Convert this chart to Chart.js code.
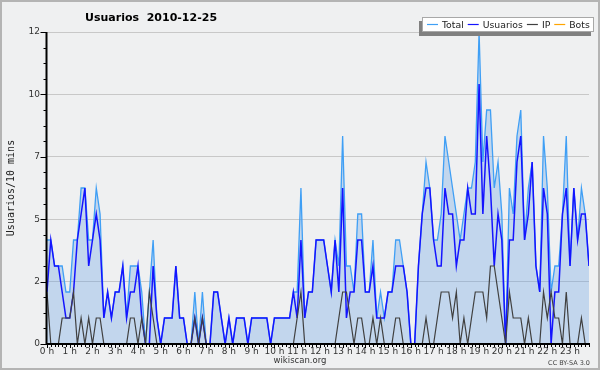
<!DOCTYPE html>
<html><head><meta charset="utf-8">
<script src="https://cdn.jsdelivr.net/npm/chart.js@4.4.1/dist/chart.umd.min.js"></script>
<style>html,body{margin:0;padding:0;background:#eff0f1;}canvas{display:block;}</style>
</head><body>
<canvas id="c" width="600" height="370"></canvas>
<script>
const chartTitle = 'Usuarios  2010-12-25';
const yAxisTitle = 'Usuarios/10 mins';
const footerText = 'wikiscan.org';
const licenseText = 'CC BY-SA 3.0';
const hourLabels = ['0 h','1 h','2 h','3 h','4 h','5 h','6 h','7 h','8 h','9 h','10 h','11 h','12 h','13 h','14 h','15 h','16 h','17 h','18 h','19 h','20 h','21 h','22 h','23 h'];
const slotsPerHour = 6;
const yMax = 12;
const yTickStep = 2.4;

// 10-minute slots of the day (0 .. 143)
const slots = [];
for (let i = 0; i < 24 * slotsPerHour; i++) slots.push(i);

const total = [
 4,4,3,3,3,2, 2,4,4,6,6,4, 4,6,5,1,2,1, 2,2,3,1,3,3, 3,2,0,2,4,1, 0,1,1,1,3,1,
 1,0,0,2,0,2, 0,0,2,2,1,0, 1,0,1,1,1,0, 1,1,1,1,1,0, 1,1,1,1,1,2, 2,6,1,2,2,4,
 4,4,3,2,4,3, 8,3,3,2,5,5, 2,2,4,1,2,1, 2,2,4,4,3,2, 0,0,3,5,7,6, 4,4,5,8,7,6,
 5,4,5,6,6,7, 12,7,9,9,6,7, 5,0,6,5,8,9, 4,6,7,3,2,8, 6,2,3,3,5,8, 3,6,4,6,5,3
];
const usuarios = [
 2,4,3,3,2,1, 1,2,4,5,6,3, 4,5,4,1,2,1, 2,2,3,1,2,2, 3,1,0,0,3,1, 0,1,1,1,3,1,
 1,0,0,1,0,1, 0,0,2,2,1,0, 1,0,1,1,1,0, 1,1,1,1,1,0, 1,1,1,1,1,2, 1,4,1,2,2,4,
 4,4,3,2,4,2, 6,1,2,2,4,4, 2,2,3,1,1,1, 2,2,3,3,3,2, 0,0,3,5,6,6, 4,3,3,6,5,5,
 3,4,4,6,5,5, 10,5,8,6,3,5, 4,0,4,4,7,8, 4,5,7,3,2,6, 5,0,2,2,5,6, 3,6,4,5,5,3
];
const ip = [
 2,0,0,0,1,1, 1,2,0,1,0,1, 0,1,1,0,0,0, 0,0,0,0,1,1, 0,1,0,2,1,0, 0,0,0,0,0,0,
 0,0,0,1,0,1, 0,0,0,0,0,0, 0,0,0,0,0,0, 0,0,0,0,0,0, 0,0,0,0,0,0, 1,2,0,0,0,0,
 0,0,0,0,0,1, 2,2,1,0,1,1, 0,0,1,0,1,0, 0,0,1,1,0,0, 0,0,0,0,1,0, 0,1,2,2,2,1,
 2,0,1,0,1,2, 2,2,1,3,3,2, 1,0,2,1,1,1, 0,1,0,0,0,2, 1,2,1,1,0,2, 0,0,0,1,0,0
];
const bots = [
 0,0,0,0,0,0, 0,0,0,0,0,0, 0,0,0,0,0,0, 0,0,0,0,0,0, 0,0,0,0,0,0, 0,0,0,0,0,0,
 0,0,0,0,0,0, 0,0,0,0,0,0, 0,0,0,0,0,0, 0,0,0,0,0,0, 0,0,0,0,0,0, 0,0,0,0,0,0,
 0,0,0,0,0,0, 0,0,0,0,0,0, 0,0,0,0,0,0, 0,0,0,0,0,0, 0,0,0,0,0,0, 0,0,0,0,0,0,
 0,0,0,0,0,0, 0,0,0,0,0,0, 0,0,0,0,0,0, 0,0,0,0,0,0, 0,0,0,0,0,0, 0,0,0,0,0,0
];

const BG = '#eff0f1';
const FONT = '"DejaVu Sans", "Liberation Sans", sans-serif';

const decor = {
  id: 'decor',
  beforeDraw(chart) {
    const c = chart.ctx;
    c.save();
    c.fillStyle = BG;
    c.fillRect(0, 0, chart.width, chart.height);
    c.restore();
  },
  afterDatasetsDraw(chart) {
    const c = chart.ctx, a = chart.chartArea, xs = chart.scales.x, ys = chart.scales.y;
    c.save();
    c.strokeStyle = '#000';
    c.lineWidth = 1;
    c.beginPath();
    // y ticks: major every yTickStep, 4 minor intervals
    const nMinor = Math.round(yMax / (yTickStep / 4));
    for (let k = 0; k <= nMinor; k++) {
      const py = Math.round(ys.getPixelForValue(k * yTickStep / 4)) + 0.5;
      const len = (k % 4 === 0) ? 6 : 3;
      c.moveTo(a.left - len - 0.5, py);
      c.lineTo(a.left, py);
    }
    // x ticks: every slot, hour ticks longer
    for (let i = 0; i < slots.length; i++) {
      const px = Math.round(xs.getPixelForValue(slots[i])) + 0.5;
      const len = (i % slotsPerHour === 0) ? 4 : 3;
      c.moveTo(px, a.bottom);
      c.lineTo(px, a.bottom + len);
    }
    c.stroke();
    // axis lines
    c.lineWidth = 2;
    c.beginPath();
    c.moveTo(a.left - 0.5, a.top);
    c.lineTo(a.left - 0.5, a.bottom + 1);
    c.moveTo(a.left - 1.5, a.bottom);
    c.lineTo(a.right + 1, a.bottom);
    c.stroke();
    c.restore();
  },
  afterDraw(chart) {
    const c = chart.ctx, a = chart.chartArea;
    c.save();
    // title
    c.fillStyle = '#000';
    c.font = 'bold 11px ' + FONT;
    c.textAlign = 'left';
    c.textBaseline = 'alphabetic';
    c.fillText(chartTitle, 85, 21);
    // y axis title (monospace, rotated)
    c.save();
    c.translate(14, (a.top + a.bottom) / 2);
    c.rotate(-Math.PI / 2);
    c.font = '10px "DejaVu Sans Mono", monospace';
    c.fillStyle = '#222';
    c.textAlign = 'center';
    c.fillText(yAxisTitle, 0, 0);
    c.restore();
    // legend box with shadow
    c.fillStyle = '#808080';
    c.fillRect(419, 21, 172, 15);
    c.fillStyle = '#ffffff';
    c.fillRect(422, 17, 172, 15);
    c.strokeStyle = '#a8a8a8';
    c.lineWidth = 1;
    c.strokeRect(422.5, 17.5, 171, 14);
    c.font = '9.3px ' + FONT;
    c.textBaseline = 'alphabetic';
    let lx = 427;
    chart.data.datasets.forEach(ds => {
      c.strokeStyle = ds.borderColor;
      c.lineWidth = 1.2;
      c.beginPath();
      c.moveTo(lx, 24.5);
      c.lineTo(lx + 11, 24.5);
      c.stroke();
      c.fillStyle = '#222';
      c.fillText(ds.label, lx + 15, 28);
      lx += 15 + c.measureText(ds.label).width + 4;
    });
    // footer
    c.fillStyle = '#333';
    c.font = '8.5px ' + FONT;
    c.textAlign = 'center';
    c.fillText(footerText, 300, 363);
    c.font = '6.5px ' + FONT;
    c.textAlign = 'right';
    c.fillStyle = '#444';
    c.fillText(licenseText, 590, 365);
    // outer border
    c.strokeStyle = '#b4b4b4';
    c.lineWidth = 2;
    c.strokeRect(1, 1, chart.width - 2, chart.height - 2);
    c.restore();
  }
};

new Chart(document.getElementById('c'), {
  type: 'line',
  data: {
    labels: slots,
    datasets: [
      { label: 'Total', data: total, borderColor: '#3f9ff5', backgroundColor: 'rgba(100,160,230,0.32)',
        fill: 'origin', borderWidth: 1.3, pointRadius: 0, tension: 0, order: 3 },
      { label: 'Usuarios', data: usuarios, borderColor: '#1414ff', borderWidth: 1.5,
        fill: false, pointRadius: 0, tension: 0, order: 2 },
      { label: 'IP', data: ip, borderColor: '#404040', borderWidth: 1.2,
        fill: false, pointRadius: 0, tension: 0, order: 1 },
      { label: 'Bots', data: bots, borderColor: '#ffa500', borderWidth: 1.2,
        fill: false, pointRadius: 0, tension: 0, order: 0 }
    ]
  },
  options: {
    responsive: false,
    animation: false,
    devicePixelRatio: 1,
    layout: { padding: { left: 0, right: 11, top: 32, bottom: 0 } },
    plugins: { legend: { display: false }, tooltip: { enabled: false }, title: { display: false } },
    scales: {
      x: {
        type: 'linear', min: 0, max: slots.length - 1,
        grid: { display: false, drawTicks: false, tickLength: 0 },
        border: { display: false },
        ticks: {
          stepSize: slotsPerHour, includeBounds: false, autoSkip: false, maxRotation: 0,
          padding: 2, color: '#333', font: { family: 'DejaVu Sans', size: 9 },
          callback: v => hourLabels[Math.round(v / slotsPerHour)]
        },
        afterFit: s => { s.height = 26; }
      },
      y: {
        min: 0, max: yMax,
        grid: { color: '#c8c8c8', lineWidth: 1, drawTicks: false, tickLength: 0 },
        border: { display: false },
        ticks: {
          stepSize: yTickStep, padding: 7, color: '#333', font: { family: 'DejaVu Sans', size: 9 },
          callback: v => String(Math.round(v))
        },
        afterFit: s => { s.width = 47; }
      }
    }
  },
  plugins: [decor]
});
</script>
</body></html>
